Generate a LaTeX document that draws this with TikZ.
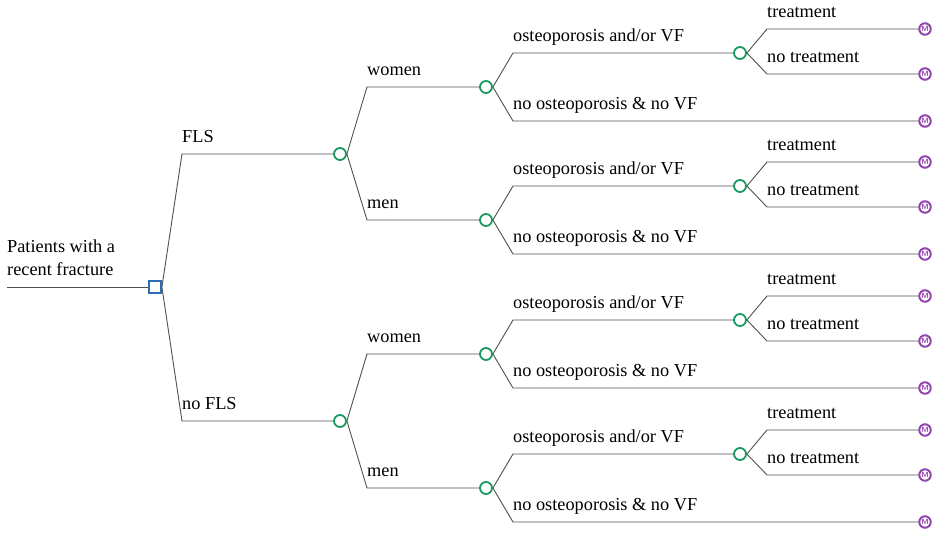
\documentclass[tikz,border=0pt]{standalone}
\usepackage{fontspec}
\setmainfont{Liberation Serif}
\definecolor{decblue}{HTML}{2C6CB5}
\definecolor{chgreen}{HTML}{179A5E}
\definecolor{mkpurple}{HTML}{9444AE}
\definecolor{branch}{HTML}{505050}
\begin{document}
\begin{tikzpicture}[x=1pt,y=-1pt,
  font=\fontsize{18.3}{22}\selectfont,
  decision/.style={rectangle, draw=decblue, line width=1.8pt, minimum size=12pt, inner sep=0pt, fill=white},
  chance/.style={circle, draw=chgreen, line width=1.8pt, minimum size=12pt, inner sep=0pt, fill=white},
  markov/.style={circle, draw=mkpurple, line width=2pt, minimum size=11.5pt, inner sep=0pt, fill=white,
    text=mkpurple, font=\sffamily\bfseries\fontsize{7.5}{7.5}\selectfont},
  edge/.style={draw=branch, line width=0.9pt},
  lbl/.style={anchor=base west, inner sep=0pt}]
\useasboundingbox (0,0) rectangle (934,537);

% root: decision node
\coordinate (S) at (7,287);
\node[decision] (D) at (155,287) {};
\draw[edge] (S) -- (D);
\node[lbl] (t1) at (7,253) {Patients with a};
\node[lbl] (t2) at (7,276) {recent fracture};

% strategy branches
\foreach \i/\ya/\txt in {1/154/FLS, 2/421/no FLS} {
  \coordinate (k\i) at (182,\ya);
  \node[chance] (c\i) at (340,\ya) {};
  \draw[edge] (D.east) -- (k\i) -- (c\i);
  \node[lbl] (l\i) at (182,\ya-11.5) {\txt};
}

% sex, diagnosis and treatment subtrees
\foreach \i/\j/\yb/\txt in {1/1/87/women, 1/2/220/men, 2/1/354/women, 2/2/488/men} {
  \coordinate (k\i\j) at (367,\yb);
  \node[chance] (c\i\j) at (486,\yb) {};
  \draw[edge] (c\i.east) -- (k\i\j) -- (c\i\j);
  \node[lbl] (l\i\j) at (367,\yb-11.5) {\txt};
  % osteoporosis and/or VF
  \coordinate (ko\i\j) at (513,\yb-34);
  \node[chance] (co\i\j) at (740,\yb-34) {};
  \draw[edge] (c\i\j.east) -- (ko\i\j) -- (co\i\j);
  \node[lbl] (lo\i\j) at (513,\yb-45.5) {osteoporosis and/or VF};
  % no osteoporosis & no VF
  \coordinate (kn\i\j) at (513,\yb+34);
  \node[markov] (mn\i\j) at (925,\yb+34) {M};
  \draw[edge] (c\i\j.east) -- (kn\i\j) -- (mn\i\j);
  \node[lbl] (ln\i\j) at (513,\yb+22.5) {no osteoporosis \& no VF};
  % treatment
  \coordinate (kt\i\j) at (767,\yb-58);
  \node[markov] (mt\i\j) at (925,\yb-58) {M};
  \draw[edge] (co\i\j.east) -- (kt\i\j) -- (mt\i\j);
  \node[lbl] (lt\i\j) at (767,\yb-69.5) {treatment};
  % no treatment
  \coordinate (ku\i\j) at (767,\yb-13);
  \node[markov] (mu\i\j) at (925,\yb-13) {M};
  \draw[edge] (co\i\j.east) -- (ku\i\j) -- (mu\i\j);
  \node[lbl] (lu\i\j) at (767,\yb-24.5) {no treatment};
}
\end{tikzpicture}
\end{document}
